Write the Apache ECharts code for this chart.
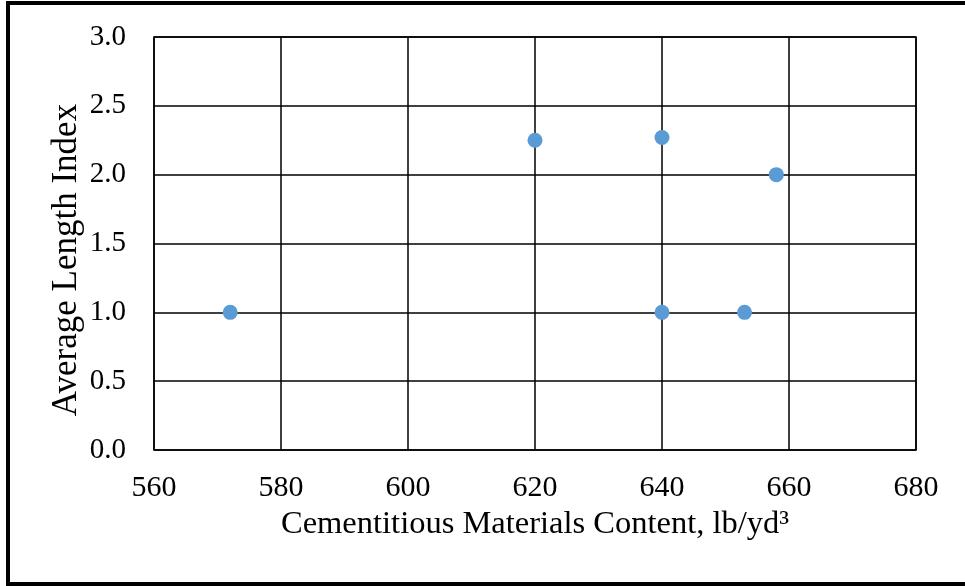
<!DOCTYPE html>
<html>
<head>
<meta charset="utf-8">
<script src="https://cdn.jsdelivr.net/npm/echarts@6/dist/echarts.min.js"></script>
<style>
html,body{margin:0;padding:0;background:#fff;}
#chart{width:965px;height:586px;}
</style>
</head>
<body>
<div id="chart"></div>
<script>
const cementContent = [572, 620, 640, 658, 640, 653];
const lengthIndex = [1.0, 2.25, 2.27, 2.0, 1.0, 1.0];
const xTicks = [560, 580, 600, 620, 640, 660, 680];
const yTicks = [0.0, 0.5, 1.0, 1.5, 2.0, 2.5, 3.0];
const xTitle = 'Cementitious Materials Content, lb/yd\u00B3';
const yTitle = 'Average Length Index';

const points = cementContent.map((x, i) => [x, lengthIndex[i]]);
const font = '"Liberation Serif", "Times New Roman", serif';

const chart = echarts.init(document.getElementById('chart'), null, {renderer: 'canvas'});
chart.setOption({
  animation: false,
  backgroundColor: '#fff',
  grid: {
    left: 154, top: 37, right: 49, bottom: 136,
    show: true, borderColor: '#000', borderWidth: 1.5, backgroundColor: 'transparent'
  },
  xAxis: {
    type: 'value',
    min: xTicks[0], max: xTicks[xTicks.length - 1], interval: 20,
    axisLine: {show: false},
    axisTick: {show: false},
    splitLine: {show: true, lineStyle: {color: '#000', width: 1.5}},
    axisLabel: {
      margin: 23, color: '#000', fontFamily: font, fontSize: 30,
      formatter: v => String(v)
    },
    name: xTitle,
    nameLocation: 'middle',
    nameGap: 51,
    nameTextStyle: {color: '#000', fontFamily: font, fontSize: 32.5}
  },
  yAxis: {
    type: 'value',
    min: yTicks[0], max: yTicks[yTicks.length - 1], interval: 0.5,
    axisLine: {show: false},
    axisTick: {show: false},
    splitLine: {show: true, lineStyle: {color: '#000', width: 1.5}},
    axisLabel: {
      margin: 28, color: '#000', fontFamily: font, fontSize: 29,
      formatter: v => v.toFixed(1)
    }
  },
  graphic: [
    {type: 'rect', shape: {x: 6, y: 1, width: 959, height: 4}, style: {fill: '#000'}},
    {type: 'rect', shape: {x: 6, y: 1, width: 4, height: 585}, style: {fill: '#000'}},
    {type: 'rect', shape: {x: 6, y: 582, width: 959, height: 4}, style: {fill: '#000'}},
    {
      type: 'text', x: 67, y: 260, rotation: Math.PI / 2,
      style: {
        text: yTitle, fill: '#000', font: '35px ' + font,
        align: 'center', verticalAlign: 'middle'
      }
    }
  ],
  series: [{
    type: 'scatter',
    data: points,
    symbol: 'circle',
    symbolSize: 15,
    itemStyle: {color: '#5B9BD5', opacity: 1}
  }]
});
</script>
</body>
</html>
